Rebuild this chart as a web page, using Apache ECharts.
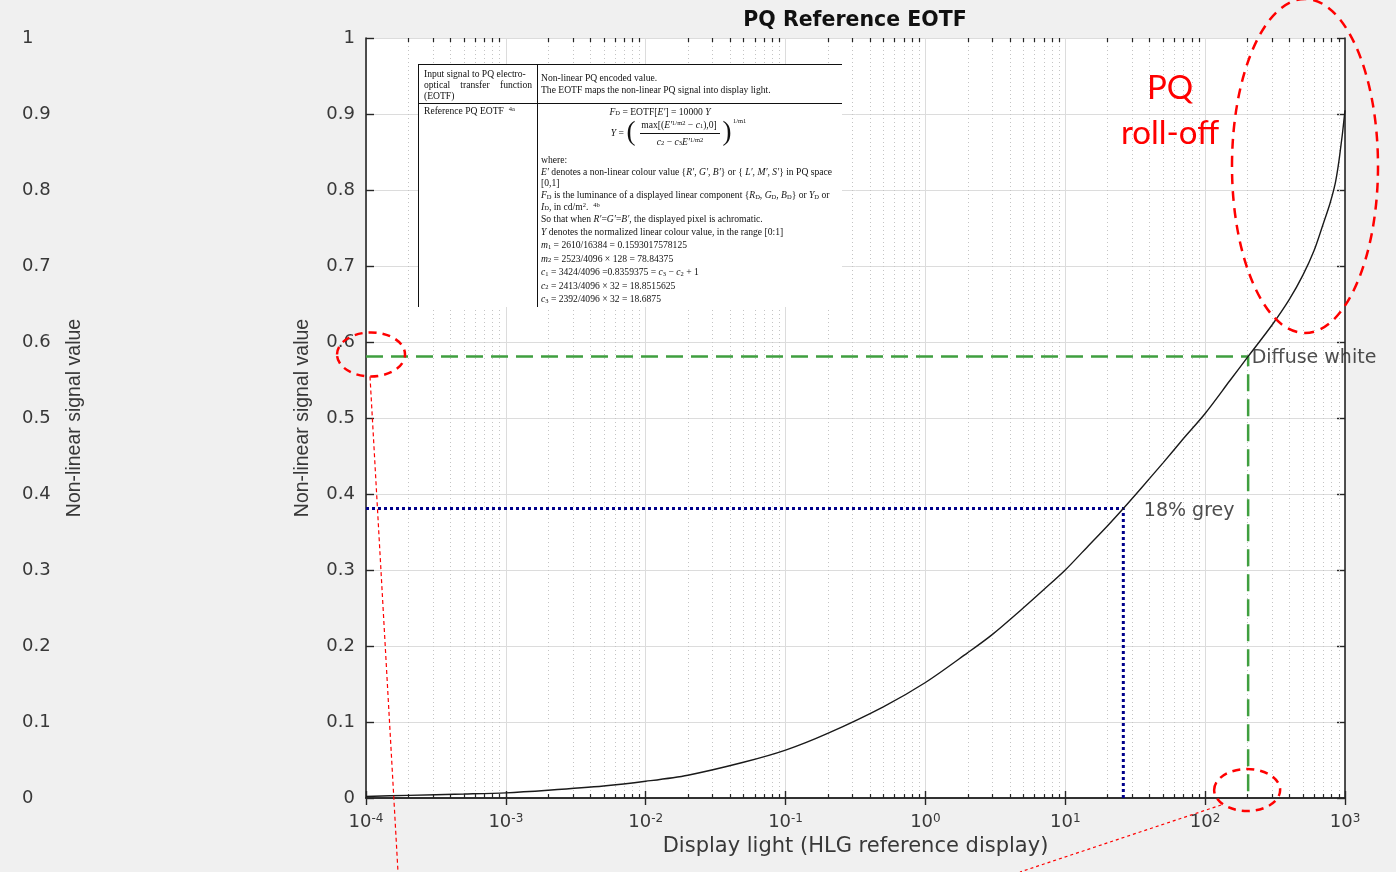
<!DOCTYPE html>
<html>
<head>
<meta charset="utf-8">
<title>PQ Reference EOTF</title>
<script src="https://cdn.jsdelivr.net/npm/echarts@6.0.0/dist/echarts.min.js"></script>
<style>
html, body { margin: 0; padding: 0; background: #f0f0f0; }
#main { width: 1396px; height: 872px; }
</style>
</head>
<body>
<div id="main"></div>
<script>
// display light (cd/m2) against the non-linear PQ signal
var lightNits = [1e-4, 2e-4, 5e-4, 1e-3, 2e-3, 5e-3, 1e-2, 2e-2, 5e-2, 0.1, 0.2, 0.5, 1, 2, 3, 5, 7, 10, 15, 20, 26, 35, 50, 70, 100, 150, 203, 300, 400, 500, 600, 700, 780, 850, 900, 930, 960, 1000];
var signalValue = [0.002, 0.0035, 0.0052, 0.0068, 0.0102, 0.0158, 0.022, 0.030, 0.047, 0.063, 0.085, 0.120, 0.152, 0.191, 0.215, 0.250, 0.274, 0.300, 0.334, 0.358, 0.381, 0.408, 0.441, 0.473, 0.506, 0.549, 0.581, 0.622, 0.656, 0.688, 0.720, 0.756, 0.782, 0.808, 0.835, 0.855, 0.875, 0.905];

// reference levels
var greyPoint = [26, 0.381];
var whitePoint = [203, 0.581];
var refLabels = ['Diffuse white', '18% grey'];

// axes
var xMin = 1e-4, xMax = 1e3;
var decadeExps = [-4, -3, -2, -1, 0, 1, 2];
var minorSteps = [2, 3, 4, 5, 6, 7, 8, 9];

var titleText = 'PQ Reference EOTF';
var xName = 'Display light (HLG reference display)';
var yName = 'Non-linear signal value';
var rollOffText = ['PQ', 'roll-off'];

var AXIS_FONT = 'DejaVu Sans';
var SERIF = 'Liberation Serif';
var TFS = 9.6;
var INK = '#383838';

var minorVals = [];
decadeExps.forEach(function(e) {
    minorSteps.forEach(function(m) {
        minorVals.push(m * Math.pow(10, e));
    });
});

function yLabel(v) {
    if (Math.abs(v) < 1e-9) return '0';
    if (Math.abs(v - 1) < 1e-9) return '1';
    return v.toFixed(1);
}

var chart = echarts.init(document.getElementById('main'));

var option = {
    animation: false,
    backgroundColor: '#f0f0f0',
    grid: [
        {left: 366, top: 38, width: 979, height: 760, show: true, backgroundColor: '#ffffff', borderWidth: 0},
        {left: 100, top: 38, width: 1, height: 760, show: false}
    ],
    xAxis: [
        {
            type: 'log', logBase: 10, min: xMin, max: xMax, gridIndex: 0, position: 'bottom',
            axisLine: {lineStyle: {color: '#262626', width: 1.6}},
            axisTick: {inside: true, length: 7, lineStyle: {color: '#262626', width: 1.4}},
            splitLine: {show: true, lineStyle: {color: '#dcdcdc', width: 1}},
            axisLabel: {
                margin: 15,
                formatter: function(v) {
                    var e = Math.round(Math.log10(v));
                    return '{b|10}{s|' + e + '}';
                },
                rich: {
                    b: {fontFamily: AXIS_FONT, fontSize: 18, color: INK},
                    s: {fontFamily: AXIS_FONT, fontSize: 12, color: INK, verticalAlign: 'top'}
                }
            },
            name: xName, nameLocation: 'middle', nameGap: 38,
            nameTextStyle: {fontFamily: AXIS_FONT, fontSize: 21, color: INK}
        },
        {
            type: 'log', logBase: 10, min: xMin, max: xMax, gridIndex: 0, position: 'top',
            axisLine: {lineStyle: {color: '#262626', width: 1.6}},
            axisTick: {inside: true, length: 7, lineStyle: {color: '#262626', width: 1.4}},
            axisLabel: {show: false},
            splitLine: {show: false}
        },
        {type: 'value', gridIndex: 1, show: false}
    ],
    yAxis: [
        {
            type: 'value', min: 0, max: 1, interval: 0.1, gridIndex: 0, position: 'left',
            axisLine: {show: true, lineStyle: {color: '#262626', width: 1.6}},
            axisTick: {show: true, inside: true, length: 8, lineStyle: {color: '#262626', width: 1.4}},
            splitLine: {show: true, lineStyle: {color: '#dcdcdc', width: 1}},
            axisLabel: {margin: 11, formatter: yLabel, fontFamily: AXIS_FONT, fontSize: 18, color: INK},
            name: yName, nameLocation: 'middle', nameRotate: 90, nameGap: 53,
            nameTextStyle: {fontFamily: 'Liberation Sans', fontSize: 19.5, color: INK}
        },
        {
            type: 'value', min: 0, max: 1, interval: 0.1, gridIndex: 0, position: 'right',
            axisLine: {show: true, lineStyle: {color: '#262626', width: 1.6}},
            axisTick: {show: true, inside: true, length: 8, lineStyle: {color: '#262626', width: 1.4}},
            splitLine: {show: false},
            axisLabel: {show: false}
        },
        {
            type: 'value', min: 0, max: 1, interval: 0.1, gridIndex: 1,
            axisLine: {show: false}, axisTick: {show: false}, splitLine: {show: false},
            axisLabel: {align: 'left', margin: 78, formatter: yLabel, fontFamily: AXIS_FONT, fontSize: 18, color: INK}
        }
    ],
    series: [
        {
            name: 'PQ EOTF',
            type: 'line',
            xAxisIndex: 0, yAxisIndex: 0,
            data: lightNits.map(function(x, i) { return [x, signalValue[i]]; }),
            showSymbol: false,
            smooth: 0.3,
            lineStyle: {color: '#1a1a1a', width: 1.4},
            z: 4
        },
        {
            name: 'minor grid',
            type: 'custom',
            xAxisIndex: 0, yAxisIndex: 0,
            silent: true,
            z: 1,
            data: minorVals.map(function(v) { return [v, 0]; }),
            renderItem: function(params, api) {
                var v = api.value(0);
                var b = api.coord([v, 0]);
                var t = api.coord([v, 1]);
                var x = Math.round(b[0]) + 0.5;
                return {
                    type: 'group',
                    children: [
                        {type: 'line', shape: {x1: x, y1: t[1], x2: x, y2: b[1]}, style: {stroke: '#c4c4c4', lineWidth: 1, lineDash: [1, 3]}},
                        {type: 'line', shape: {x1: x, y1: b[1], x2: x, y2: b[1] - 4}, style: {stroke: '#262626', lineWidth: 1.2}},
                        {type: 'line', shape: {x1: x, y1: t[1], x2: x, y2: t[1] + 4}, style: {stroke: '#262626', lineWidth: 1.2}}
                    ]
                };
            }
        },
        {
            name: refLabels[0],
            type: 'line',
            xAxisIndex: 0, yAxisIndex: 0,
            data: [[xMin, whitePoint[1]], whitePoint, [whitePoint[0], 0]],
            showSymbol: false,
            lineStyle: {color: '#3f9f3f', width: 2.5, type: [17, 8]},
            z: 3
        },
        {
            name: refLabels[1],
            type: 'line',
            xAxisIndex: 0, yAxisIndex: 0,
            data: [[xMin, greyPoint[1]], greyPoint, [greyPoint[0], 0]],
            showSymbol: false,
            lineStyle: {color: '#00008b', width: 3, type: [3, 3]},
            z: 3
        },
        {
            name: 'labels',
            type: 'scatter',
            xAxisIndex: 0, yAxisIndex: 0,
            symbolSize: 1,
            itemStyle: {color: 'rgba(0,0,0,0)'},
            silent: true,
            z: 6,
            label: {show: true, position: 'right', fontFamily: AXIS_FONT, fontSize: 19, color: '#222'},
            data: [
                {value: whitePoint, label: {formatter: refLabels[0], distance: 3, offset: [0, 2]}},
                {value: greyPoint, label: {formatter: refLabels[1], distance: 20, offset: [0, 3]}}
            ]
        }
    ]
};

chart.setOption(option);

// inset table (PQ EOTF definition), drawn on top of the plot area
var tableRich = {
    i: {fontFamily: SERIF, fontSize: TFS, fontStyle: 'italic', fill: '#111'},
    sb: {fontFamily: SERIF, fontSize: 6.5, fill: '#111', verticalAlign: 'bottom'},
    sp: {fontFamily: SERIF, fontSize: 6.5, fill: '#111', verticalAlign: 'top'}
};

function tText(x, y, s, align, size) {
    return {
        type: 'text', x: x, y: y, z: 12, silent: true,
        style: {text: s, fontFamily: SERIF, fontSize: size || TFS, fill: '#111', align: align || 'left', verticalAlign: 'middle', rich: tableRich}
    };
}

function tLine(x1, y1, x2, y2) {
    return {type: 'line', z: 12, silent: true, shape: {x1: x1, y1: y1, x2: x2, y2: y2}, style: {stroke: '#111', lineWidth: 1}};
}

var tableRows = [
    [541, 160, 'where:'],
    [541, 172.5, '{i|E′} denotes a non-linear colour value {{i|R′}, {i|G′}, {i|B′}} or { {i|L′}, {i|M′}, {i|S′}} in PQ space'],
    [541, 183.5, '[0,1]'],
    [541, 195.5, '{i|F}{sb|D} is the luminance of a displayed linear component {{i|R}{sb|D}, {i|G}{sb|D}, {i|B}{sb|D}} or {i|Y}{sb|D} or'],
    [541, 207, '{i|I}{sb|D}, in cd/m{sp|2}.  {sp|4b}'],
    [541, 219.5, 'So that when {i|R′}={i|G′}={i|B′}, the displayed pixel is achromatic.'],
    [541, 232, '{i|Y} denotes the normalized linear colour value, in the range [0:1]'],
    [541, 245.5, '{i|m}{sb|1} = 2610/16384 = 0.1593017578125'],
    [541, 259, '{i|m}{sb|2} = 2523/4096 × 128 = 78.84375'],
    [541, 272.5, '{i|c}{sb|1} = 3424/4096 =0.8359375 = {i|c}{sb|3} − {i|c}{sb|2} + 1'],
    [541, 286, '{i|c}{sb|2} = 2413/4096 × 32 = 18.8515625'],
    [541, 299.5, '{i|c}{sb|3} = 2392/4096 × 32 = 18.6875']
];

function buildGraphic() {
    var g = [];
    // title
    g.push({type: 'text', x: 855, y: 21, silent: true, style: {text: titleText, fontFamily: AXIS_FONT, fontWeight: 'bold', fontSize: 20.5, fill: '#111', align: 'center', verticalAlign: 'middle'}});

    // left copy of the y-axis title
    g.push({type: 'text', x: 75, y: 418, rotation: Math.PI / 2, silent: true, style: {text: yName, fontFamily: 'Liberation Sans', fontSize: 19.5, fill: INK, align: 'center', verticalAlign: 'middle'}});

    // table
    g.push({type: 'rect', z: 11, silent: true, shape: {x: 418, y: 64, width: 424, height: 243}, style: {fill: '#ffffff'}});
    g.push(tLine(418, 64.5, 842, 64.5));
    g.push(tLine(418, 103.5, 842, 103.5));
    g.push(tLine(418.5, 64, 418.5, 307));
    g.push(tLine(537.5, 64, 537.5, 307));

    g.push(tText(424, 74, 'Input signal to PQ electro-'));
    g.push(tText(424, 85, 'optical'));
    g.push(tText(475, 85, 'transfer', 'center'));
    g.push(tText(532, 85, 'function', 'right'));
    g.push(tText(424, 96, '(EOTF)'));
    g.push(tText(424, 111, 'Reference PQ EOTF  {sp|4a}'));

    g.push(tText(541, 78, 'Non-linear PQ encoded value.'));
    g.push(tText(541, 90.5, 'The EOTF maps the non-linear PQ signal into display light.'));

    g.push(tText(660, 112, '{i|F}{sb|D} = EOTF[{i|E′}] = 10000 {i|Y}', 'center'));
    g.push(tText(624, 133, '{i|Y} =', 'right'));
    g.push(tText(631, 133, '(', 'center', 27));
    g.push(tText(679, 125, 'max[({i|E′}{sp|1/m2} − {i|c}{sb|1}),0]', 'center'));
    g.push(tLine(640, 133.5, 720, 133.5));
    g.push(tText(680, 142, '{i|c}{sb|2} − {i|c}{sb|3}{i|E′}{sp|1/m2}', 'center'));
    g.push(tText(727, 133, ')', 'center', 27));
    g.push(tText(733, 121, '1/m1', 'left', 6.5));

    tableRows.forEach(function(r) {
        g.push(tText(r[0], r[1], r[2]));
    });

    // red annotations
    var red = '#ff0000';
    var leftMark = chart.convertToPixel({seriesIndex: 0}, [xMin, whitePoint[1]]);
    var footMark = chart.convertToPixel({seriesIndex: 0}, [whitePoint[0], 0]);
    g.push({type: 'ellipse', z: 30, silent: true, shape: {cx: 1305, cy: 166, rx: 73, ry: 167}, style: {fill: 'none', stroke: red, lineWidth: 2.5, lineDash: [10, 7]}});
    g.push({type: 'ellipse', z: 30, silent: true, shape: {cx: leftMark[0] + 5, cy: leftMark[1] - 2, rx: 34, ry: 22}, style: {fill: 'none', stroke: red, lineWidth: 2.5, lineDash: [8, 6]}});
    g.push({type: 'ellipse', z: 30, silent: true, shape: {cx: footMark[0] - 1, cy: footMark[1] - 8, rx: 33, ry: 21}, style: {fill: 'none', stroke: red, lineWidth: 2.5, lineDash: [8, 6]}});
    g.push({type: 'line', z: 30, silent: true, shape: {x1: leftMark[0] + 4, y1: leftMark[1] + 20, x2: 398, y2: 872}, style: {stroke: red, lineWidth: 1.2, lineDash: [4, 3]}});
    g.push({type: 'line', z: 30, silent: true, shape: {x1: footMark[0] - 27, y1: footMark[1] + 7, x2: 1020, y2: 872}, style: {stroke: red, lineWidth: 1.2, lineDash: [3, 3]}});
    g.push({type: 'text', z: 30, x: 1170, y: 88, silent: true, style: {text: rollOffText[0], fontFamily: 'Lato', fontSize: 33, fill: red, align: 'center', verticalAlign: 'middle'}});
    g.push({type: 'text', z: 30, x: 1170, y: 133, silent: true, style: {text: rollOffText[1], fontFamily: 'Lato', fontSize: 33, fill: red, align: 'center', verticalAlign: 'middle'}});
    return g;
}

chart.setOption({graphic: buildGraphic()});
</script>
</body>
</html>
